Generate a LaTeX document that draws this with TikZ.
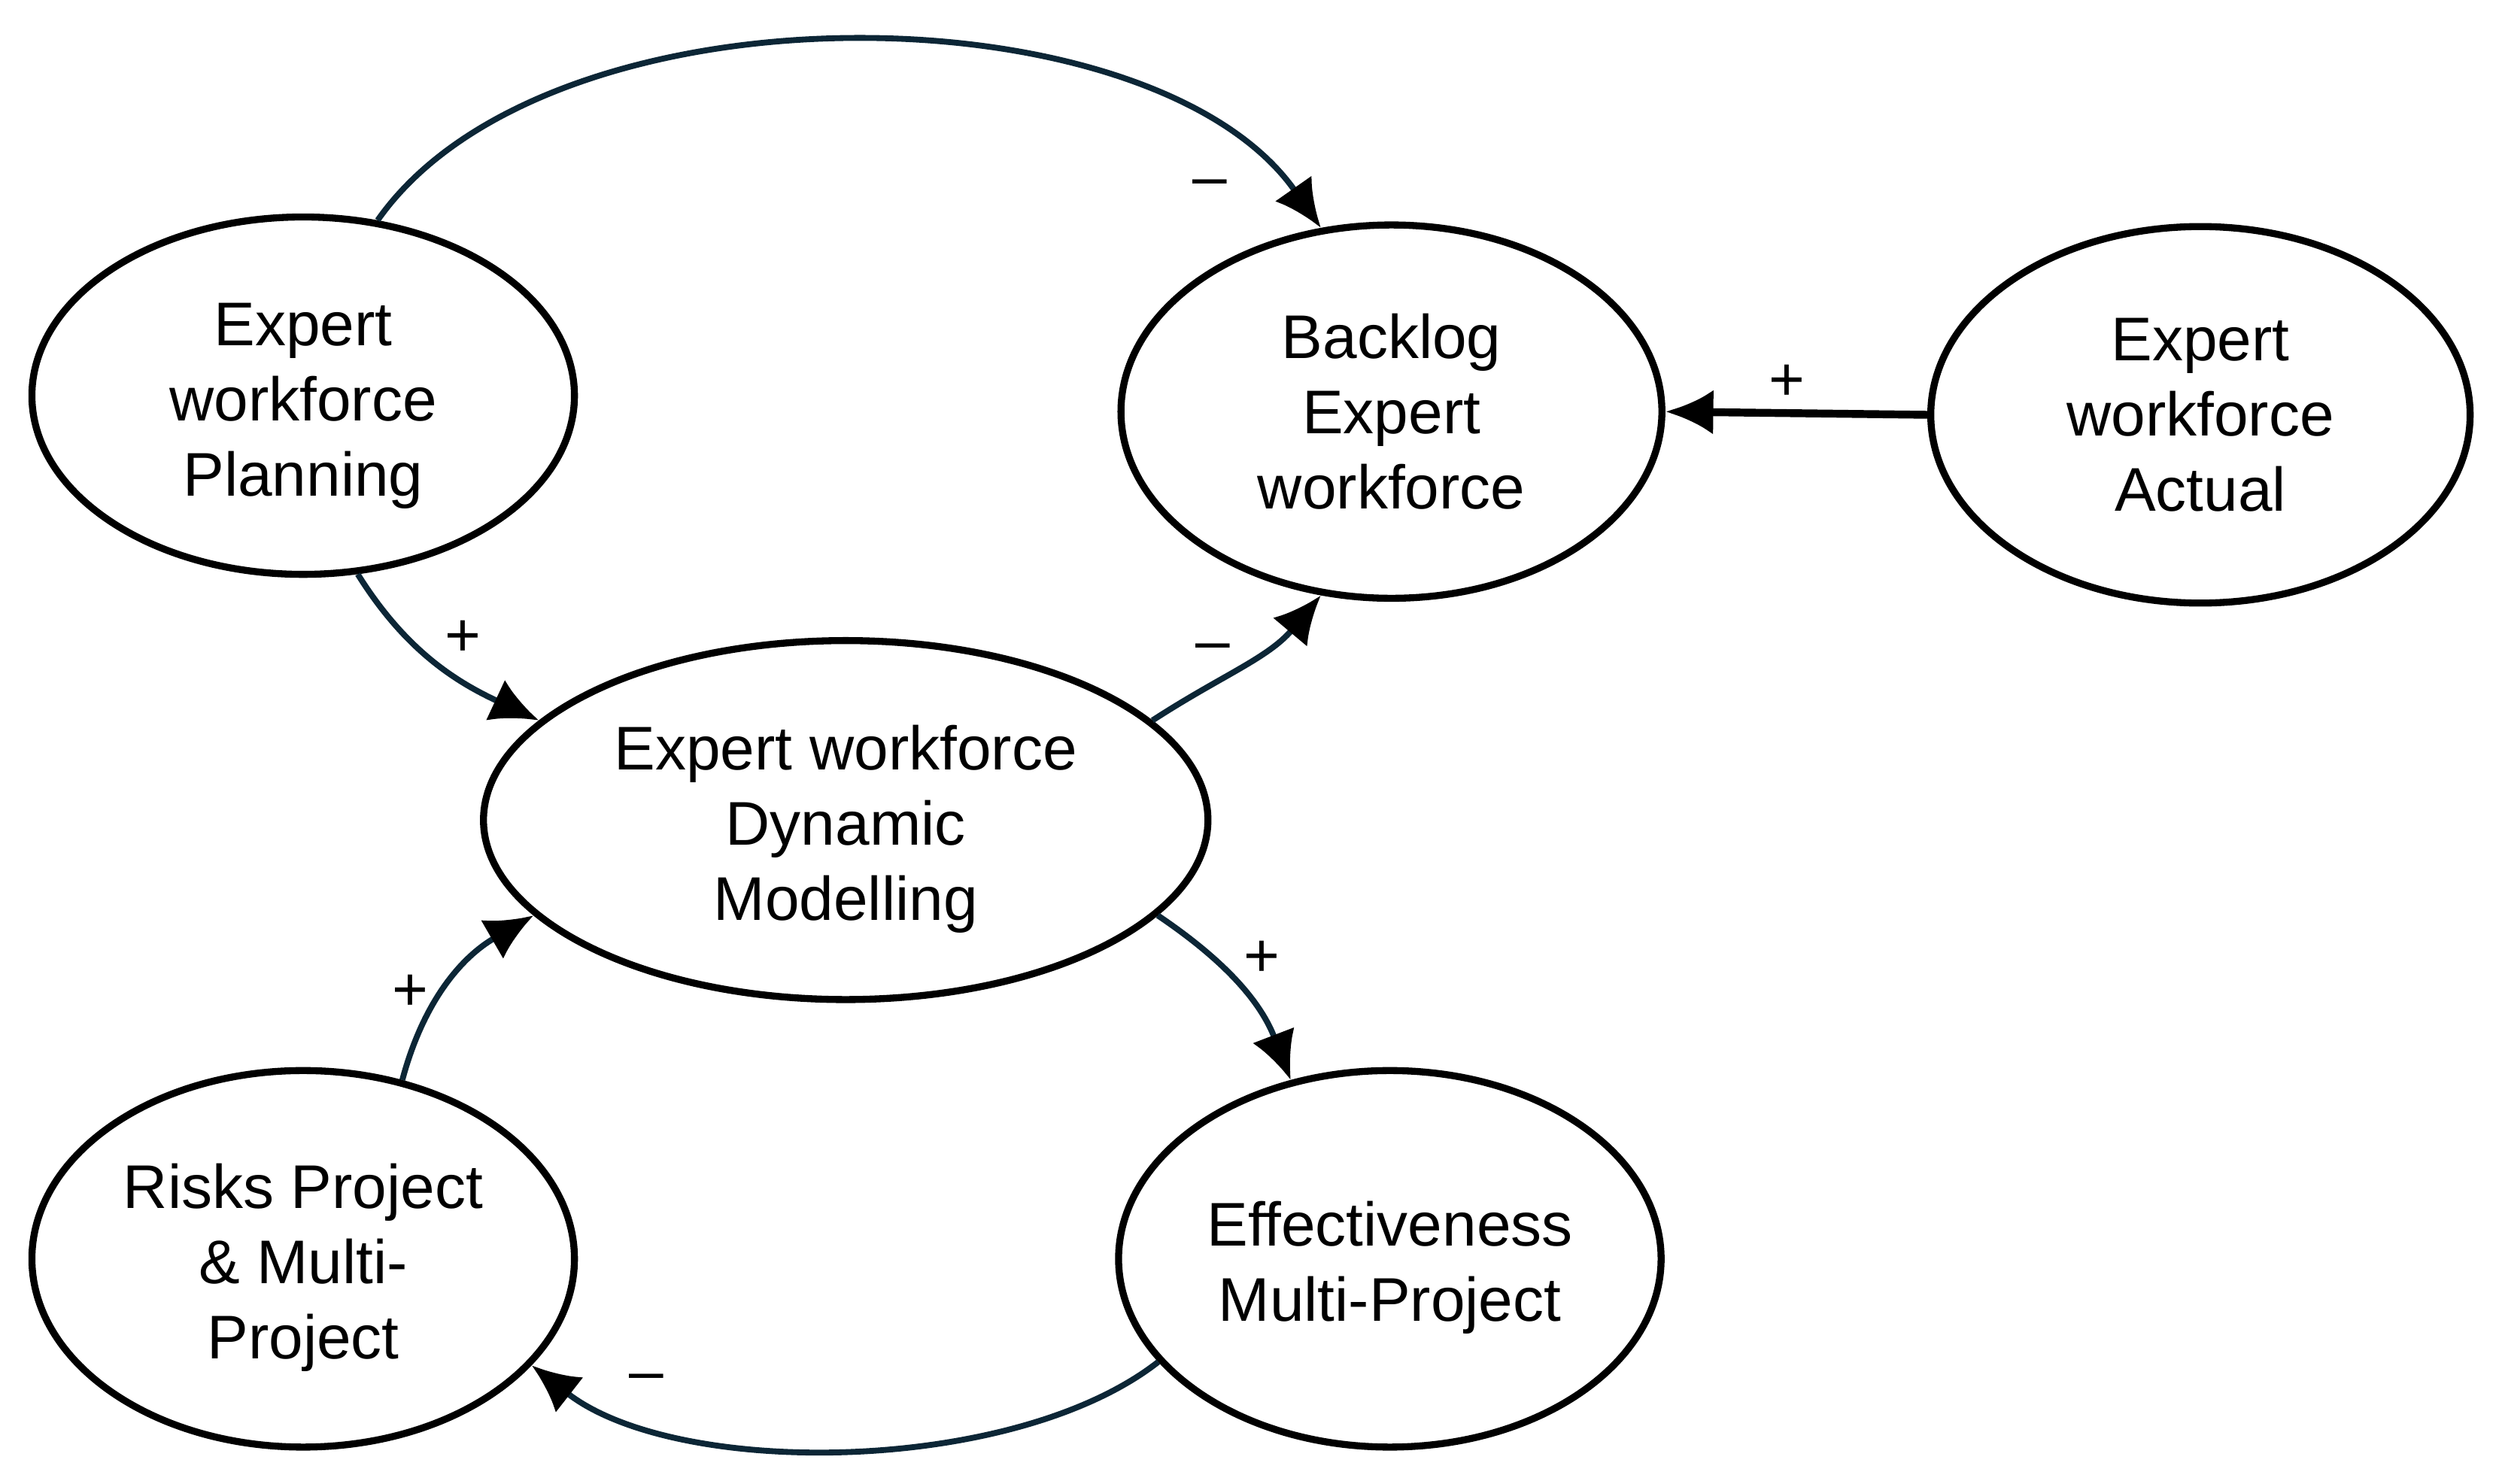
\documentclass[tikz,border=0pt]{standalone}
\usepackage{fontspec}
\setmainfont{Liberation Sans}
\usetikzlibrary{shapes,arrows.meta,positioning}
\definecolor{linkblue}{RGB}{12,38,54}
\newcommand{\topgap}{\rule{0pt}{11.2pt}}
\tikzset{
    -{Latex[length=3mm,width=2.8mm,color=black]},semithick,
    factor/.style ={ellipse, draw, line width=1.25pt, inner sep=0pt, align=center,
                    font=\fontsize{11}{13.4}\selectfont},
    link/.style = {line width=1.05pt, draw=linkblue},
    sign/.style = {inner sep=1pt, font=\fontsize{11}{13.4}\selectfont}
}
\begin{document}
\begin{tikzpicture}
  \useasboundingbox (0,0) rectangle (15.68,-9.30);
  \node (P) at (1.90,-2.48) [factor, minimum width=3.40cm, minimum height=2.24cm] {\topgap Expert\\workforce\\Planning};
  \node (B) at (8.72,-2.58) [factor, minimum width=3.39cm, minimum height=2.34cm] {Backlog\\Expert\\workforce};
  \node (A) at (13.79,-2.60) [factor, minimum width=3.38cm, minimum height=2.36cm] {Expert\\workforce\\Actual};
  \node (D) at (5.30,-5.14) [factor, minimum width=4.54cm, minimum height=2.25cm] {\topgap Expert workforce\\Dynamic\\Modelling};
  \node (R) at (1.90,-7.89) [factor, minimum width=3.40cm, minimum height=2.36cm] {\topgap Risks Project\\\& Multi-\\Project};
  \node (E) at (8.71,-7.89) [factor, minimum width=3.40cm, minimum height=2.36cm] {\topgap Effectiveness\\Multi-Project};

  \node (s1) at (7.58,-1.18) [sign] {\textendash};
  \node (s2) at (2.90,-4.00) [sign] {+};
  \node (s3) at (7.60,-4.09) [sign] {\textendash};
  \node (s4) at (11.20,-2.40) [sign] {+};
  \node (s5) at (7.91,-6.01) [sign] {+};
  \node (s6) at (2.57,-6.22) [sign] {+};
  \node (s7) at (4.05,-8.67) [sign] {\textendash};

    \path (P.67) edge [link, out=55, in=125, looseness=0.8] (B.111);
    \path (P.-73) edge [link, out=-58, in=155] (D.162);
    \path (D.18) edge [link, out=33, in=-130] (B.-111);
    \path (D.-17) edge [link, out=-34, in=111] (E.119);
    \path (E.204) edge [link, out=218, in=-38, looseness=0.75] (R.-25);
    \path (R.61) edge [link, out=75, in=210] (D.197);
    \path (A.west) edge [line width=1.4pt] (B.east);
\end{tikzpicture}
\end{document}
